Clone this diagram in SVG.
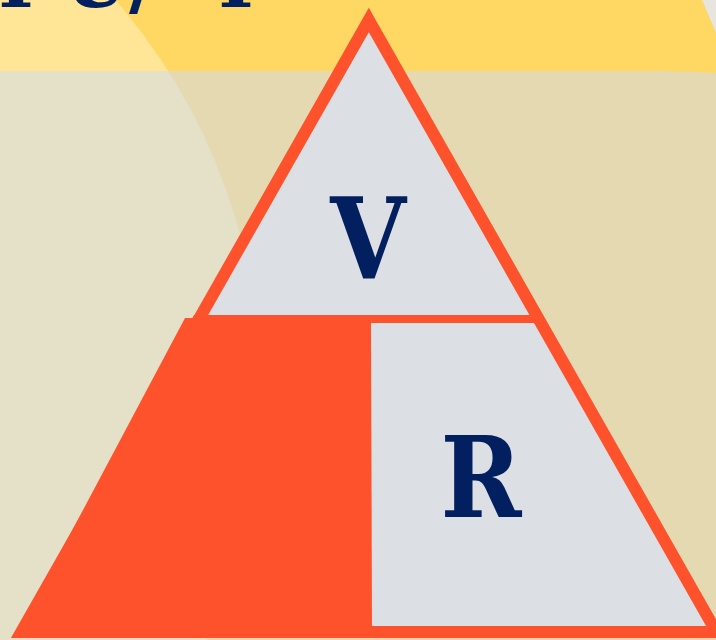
<svg xmlns="http://www.w3.org/2000/svg" width="716" height="640" viewBox="0 0 716 640">
  <style>
    .navy { fill: #021F5F; font-family: "DejaVu Serif", "Liberation Serif", serif; font-weight: bold; }
    .orange { fill: #FD522C; }
    .grey { fill: #DCDFE4; }
  </style>
  <defs>
    <clipPath id="circ">
      <circle cx="-337" cy="391" r="598"/>
    </clipPath>
  </defs>
  <g id="background">
    <rect x="0" y="0" width="716" height="640" fill="#E4D9B1"/>
    <circle cx="-337" cy="391" r="598" fill="#E5E0C8"/>
    <path d="M702,0 L716,0 L716,33 Z" fill="#E8E4DE"/>
    <path d="M0,0 L702,0 L716,33 L716,73 C690,71 650,71 600,71 L0,71 Z" fill="#FFD864"/>
    <path d="M0,0 L702,0 L716,33 L716,73 C690,71 650,71 600,71 L0,71 Z" fill="#FFE596" clip-path="url(#circ)"/>
    <text class="navy" font-size="76" text-anchor="middle" y="7"><tspan x="16">I</tspan><tspan x="96">U</tspan><tspan x="143">/</tspan><tspan x="236">I</tspan></text>
  </g>
  <g id="triangle">
    <path d="M368.8,20 L716.4,632 L21.2,632 Z" class="grey" stroke="#FD522C" stroke-width="12" stroke-linejoin="miter" stroke-miterlimit="10"/>
  </g>
  <g id="node-I">
    <polygon class="orange" points="185,318 371,318 372,638 15,638"/>
  </g>
  <g id="connectors">
    <polygon class="orange" points="194,315 541,315 545,323 190,323"/>
  </g>
  <g id="node-V">
    <text class="navy" font-size="112" text-anchor="middle" transform="translate(368,278) scale(0.87,1)">V</text>
  </g>
  <g id="node-R">
    <text class="navy" font-size="112" text-anchor="middle" transform="translate(481,517) scale(0.87,1)">R</text>
  </g>
</svg>
